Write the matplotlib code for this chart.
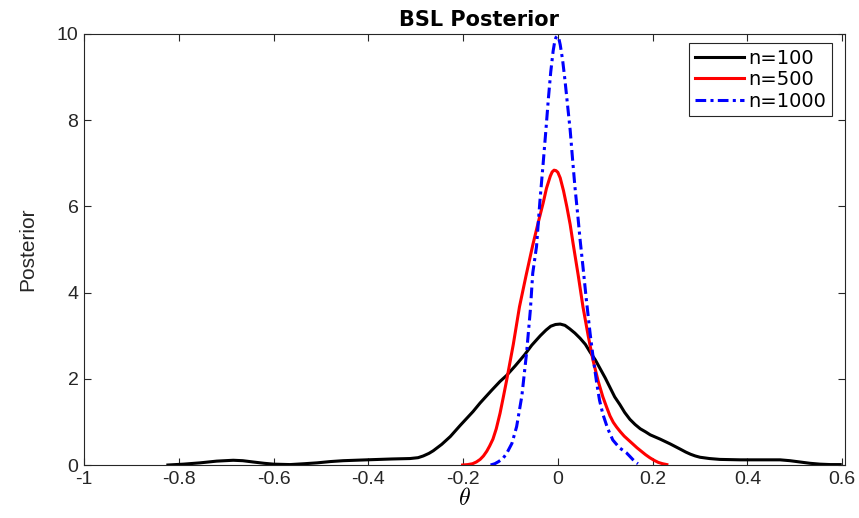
import numpy as np
import matplotlib.pyplot as plt

# posterior curves
x100 = [-0.823, -0.79, -0.755, -0.72, -0.685, -0.665, -0.643, -0.62, -0.6, -0.565,
        -0.535, -0.508, -0.48, -0.453, -0.403, -0.35, -0.312, -0.295, -0.284, -0.272,
        -0.263, -0.245, -0.227, -0.206, -0.179, -0.164, -0.14, -0.122, -0.108, -0.09,
        -0.07, -0.055, -0.037, -0.025, -0.015, -0.005, 0.005, 0.015, 0.025, 0.036,
        0.047, 0.058, 0.068, 0.079, 0.089, 0.1, 0.11, 0.12, 0.131, 0.141, 0.152, 0.163,
        0.174, 0.185, 0.195, 0.216, 0.237, 0.258, 0.27, 0.28, 0.29, 0.3, 0.32, 0.342,
        0.385, 0.427, 0.45, 0.469, 0.49, 0.511, 0.532, 0.553, 0.575, 0.596]
y100 = [0.0, 0.02, 0.05, 0.09, 0.11, 0.1, 0.07, 0.04, 0.02, 0.01,
        0.03, 0.05, 0.08, 0.1, 0.12, 0.14, 0.15, 0.17, 0.21, 0.27,
        0.33, 0.48, 0.66, 0.92, 1.24, 1.44, 1.73, 1.94, 2.08, 2.3,
        2.56, 2.78, 3.0, 3.13, 3.22, 3.26, 3.27, 3.24, 3.16, 3.06,
        2.94, 2.8, 2.62, 2.44, 2.24, 2.02, 1.8, 1.58, 1.4, 1.22, 1.06, 0.94,
        0.84, 0.77, 0.7, 0.6, 0.49, 0.37, 0.3, 0.25, 0.21, 0.18, 0.15, 0.13,
        0.12, 0.12, 0.12, 0.12, 0.1, 0.07, 0.04, 0.02, 0.01, 0.01]

x500 = [-0.201, -0.19, -0.18, -0.172, -0.164, -0.157, -0.15, -0.144, -0.137, -0.13,
        -0.122, -0.115, -0.108, -0.094, -0.081, -0.067, -0.053, -0.042, -0.031, -0.024,
        -0.016, -0.012, -0.008, -0.004, 0.0, 0.005, 0.012, 0.019, 0.026, 0.032, 0.043,
        0.053, 0.064, 0.074, 0.085, 0.095, 0.103, 0.11, 0.117, 0.124, 0.132, 0.14, 0.15,
        0.158, 0.167, 0.176, 0.185, 0.194, 0.203, 0.212, 0.221, 0.23]
y500 = [0.0, 0.01, 0.03, 0.07, 0.13, 0.21, 0.32, 0.44, 0.6, 0.84,
        1.2, 1.58, 1.97, 2.8, 3.67, 4.4, 5.1, 5.6, 6.08, 6.42,
        6.7, 6.8, 6.84, 6.83, 6.79, 6.66, 6.36, 5.99, 5.58, 5.15, 4.4,
        3.67, 3.0, 2.44, 1.95, 1.58, 1.34, 1.14, 0.99, 0.88, 0.77, 0.67, 0.57,
        0.49, 0.4, 0.32, 0.24, 0.17, 0.11, 0.06, 0.03, 0.01]

x1000 = [-0.142, -0.133, -0.125, -0.116, -0.108, -0.097, -0.087, -0.076, -0.066, -0.058,
         -0.053, -0.045, -0.038, -0.031, -0.025, -0.02, -0.015, -0.01, -0.007, -0.004,
         -0.001, 0.002, 0.005, 0.01, 0.015, 0.02, 0.026, 0.031, 0.036, 0.042, 0.047,
         0.053, 0.06, 0.068, 0.075, 0.082, 0.088, 0.095, 0.105, 0.116, 0.13, 0.145,
         0.152, 0.158, 0.164, 0.169]
y1000 = [0.0, 0.03, 0.08, 0.15, 0.27, 0.5, 0.89, 1.6, 2.6, 3.6,
         4.45, 5.07, 6.1, 7.0, 7.8, 8.5, 9.12, 9.6, 9.8, 9.92,
         9.95, 9.9, 9.75, 9.4, 8.93, 8.4, 7.77, 7.1, 6.46, 5.8, 5.22,
         4.6, 3.85, 3.06, 2.45, 1.9, 1.5, 1.18, 0.85, 0.58, 0.4, 0.28,
         0.2, 0.13, 0.07, 0.03]

plt.rcParams['font.family'] = ['Liberation Sans', 'DejaVu Sans']
plt.rcParams['mathtext.fontset'] = 'cm'

fig = plt.figure(figsize=(8.59, 5.18), dpi=100)
ax = fig.add_axes([0.0978, 0.1023, 0.8859, 0.8321])

ax.plot(x100, y100, color='black', lw=2.2, label='n=100')
ax.plot(x500, y500, color='red', lw=2.2, label='n=500')
ax.plot(x1000, y1000, color='blue', lw=2.2, ls=(0, (3.5, 1.4, 1.0, 1.4)), label='n=1000')

ax.set_xlim(-1, 0.606)
ax.set_ylim(0, 10)
ax.set_xticks([-1, -0.8, -0.6, -0.4, -0.2, 0, 0.2, 0.4, 0.6])
ax.set_xticklabels(['-1', '-0.8', '-0.6', '-0.4', '-0.2', '0', '0.2', '0.4', '0.6'])
ax.set_yticks([0, 2, 4, 6, 8, 10])
ax.tick_params(direction='in', top=True, right=True, labelsize=14,
               colors='#262626', length=5, width=0.8, pad=4)
for s in ax.spines.values():
    s.set_color('#262626')
    s.set_linewidth(0.8)

ax.set_title('BSL Posterior', fontsize=15, fontweight='bold', family='DejaVu Sans',
             x=0.519, pad=6)
ax.set_xlabel(r'$\theta$', fontsize=17, labelpad=0)
ax.set_ylabel('Posterior', fontsize=15, color='#262626', labelpad=14)

leg = ax.legend(loc='upper right', bbox_to_anchor=(0.983, 0.979), borderaxespad=0,
                prop={'family': 'DejaVu Sans', 'size': 14}, fancybox=False,
                framealpha=1, edgecolor='#262626', handlelength=2.55,
                handletextpad=0.2, labelspacing=0.12, borderpad=0.3)
leg.get_frame().set_linewidth(0.8)

plt.savefig('out.png', dpi=100)
